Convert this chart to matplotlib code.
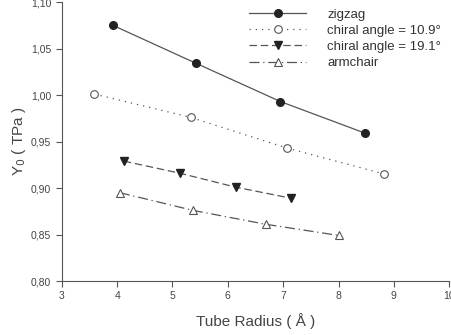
import numpy as np
import matplotlib.pyplot as plt
from matplotlib.ticker import FuncFormatter

plt.rcParams['font.family'] = ['Liberation Sans', 'DejaVu Sans']

#data
x_zig=[3.92,5.43,6.95,8.48]
y_zig=[1.075,1.034,0.993,0.959]
x_c109=[3.59,5.33,7.07,8.83]
y_c109=[1.001,0.976,0.943,0.915]
x_c191=[4.12,5.13,6.14,7.15]
y_c191=[0.929,0.916,0.901,0.889]
x_arm=[4.05,5.37,6.69,8.01]
y_arm=[0.895,0.876,0.861,0.849]

col='#555555'
fig=plt.figure(figsize=(4.51,3.35),dpi=100)
ax=fig.add_axes([0.137,0.161,0.859,0.833])

ax.plot(x_zig,y_zig,'-',color=col,lw=0.9,marker='o',ms=5.5,mfc='#222222',mec='#222222',label='zigzag')
ax.plot(x_c109,y_c109,linestyle=(0,(1,4)),color=col,lw=0.9,marker='o',ms=5.5,mfc='white',mec=col,mew=0.8,label='chiral angle = 10.9°')
ax.plot(x_c191,y_c191,linestyle=(0,(6,3)),color=col,lw=0.9,marker='v',ms=5.5,mfc='#222222',mec='#222222',label='chiral angle = 19.1°')
ax.plot(x_arm,y_arm,linestyle=(0,(8,3,1,3)),color=col,lw=0.9,marker='^',ms=5.5,mfc='white',mec=col,mew=0.8,label='armchair')

ax.set_xlim(3,10)
ax.set_ylim(0.80,1.10)
ax.set_xticks(range(3,11))
ax.set_yticks(np.arange(0.80,1.101,0.05))
ax.yaxis.set_major_formatter(FuncFormatter(lambda v,p:('%.2f'%v).replace('.',',')))

for s in ['top','right']:
    ax.spines[s].set_visible(False)
for s in ['left','bottom']:
    ax.spines[s].set_color(col)
ax.tick_params(direction='out',length=4,color=col,labelcolor='#444444',labelsize=7.5)

ax.set_xlabel('Tube Radius ( Å )',fontsize=11,color='#444444',labelpad=8)
ax.set_ylabel('Y$_0$ ( TPa )',fontsize=11,color='#444444',labelpad=2)

leg=ax.legend(loc='upper right',bbox_to_anchor=(1.01,1.02),frameon=False,fontsize=9.5,handlelength=4.3,handletextpad=1.6,labelspacing=0.3)
for t in leg.get_texts():
    t.set_color('#333333')

plt.savefig('out.png',dpi=100)
